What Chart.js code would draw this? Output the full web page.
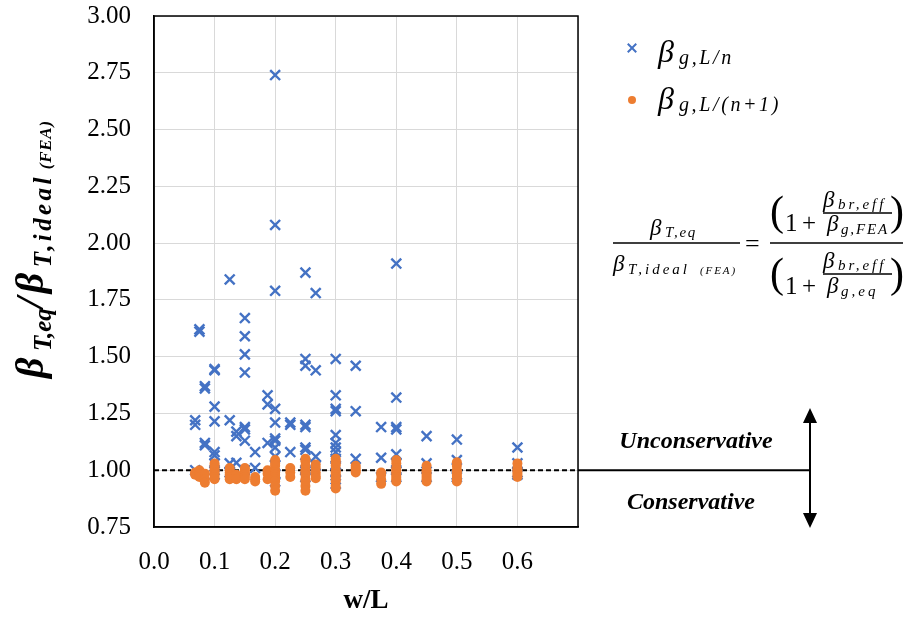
<!DOCTYPE html>
<html>
<head>
<meta charset="utf-8">
<script src="https://cdn.jsdelivr.net/npm/chart.js@4/dist/chart.umd.min.js"></script>
<style>
  html, body { margin: 0; padding: 0; background: #fff; }
  #wrap { width: 911px; height: 617px; position: relative; }
</style>
</head>
<body>
<div id="wrap"><canvas id="c" width="911" height="617"></canvas></div>
<script>
// ---- data ----
const wLevels = [0.068, 0.075, 0.084, 0.1, 0.125, 0.136, 0.15, 0.167, 0.1875, 0.2,
                 0.225, 0.25, 0.267, 0.3, 0.333, 0.375, 0.4, 0.45, 0.5, 0.6];
// beta_g,L/n series (blue crosses), one list per w/L level
const betaLn = [
  [1.22, 1.20, 1.00],
  [1.62, 1.61],
  [1.37, 1.36, 1.12, 1.11],
  [1.445, 1.44, 1.28, 1.215, 1.08, 1.065, 1.03, 1.00, 0.98],
  [1.84, 1.22, 1.03, 0.99],
  [1.17, 1.15, 1.033],
  [1.67, 1.59, 1.51, 1.43, 1.19, 1.18, 1.13, 1.00],
  [1.08, 1.01],
  [1.33, 1.29, 1.12],
  [2.74, 2.08, 1.79, 1.27, 1.21, 1.14, 1.13, 1.10, 1.06, 1.02, 0.98, 0.95],
  [1.21, 1.20, 1.08],
  [1.87, 1.49, 1.46, 1.20, 1.19, 1.10, 1.09, 1.03, 1.00, 0.97],
  [1.78, 1.44, 1.06, 1.02],
  [1.49, 1.33, 1.27, 1.26, 1.155, 1.12, 1.10, 1.08, 1.05, 1.02, 0.99, 0.96, 0.94],
  [1.46, 1.26, 1.05],
  [1.19, 1.055, 0.97],
  [1.91, 1.32, 1.19, 1.18, 1.07, 1.03, 1.00, 0.97],
  [1.15, 1.03, 0.97],
  [1.135, 1.045, 0.98, 0.97],
  [1.10, 1.03, 0.99, 0.98]
];
// beta_g,L/(n+1) series (orange dots), one list per w/L level
const betaLn1 = [
  [0.99, 0.985, 0.98],
  [1.00, 0.99, 0.98, 0.97],
  [0.985, 0.96, 0.945],
  [1.03, 1.02, 1.01, 1.00, 0.99, 0.98, 0.97, 0.96],
  [1.01, 1.00, 0.99, 0.98, 0.97, 0.96],
  [0.98, 0.96],
  [1.01, 1.00, 0.99, 0.98, 0.97, 0.96],
  [0.97, 0.96, 0.95],
  [1.00, 0.985, 0.96],
  [1.045, 1.03, 1.02, 1.00, 0.99, 0.98, 0.97, 0.96, 0.95, 0.93, 0.91],
  [1.01, 0.99, 0.97],
  [1.05, 1.04, 1.02, 1.00, 0.99, 0.98, 0.96, 0.95, 0.93, 0.91],
  [1.025, 1.01, 0.99, 0.975, 0.965],
  [1.05, 1.04, 1.03, 1.02, 1.00, 0.99, 0.98, 0.97, 0.96, 0.95, 0.93, 0.92],
  [1.02, 1.01, 1.00, 0.99],
  [0.99, 0.98, 0.96, 0.94],
  [1.045, 1.03, 1.01, 1.00, 0.99, 0.98, 0.97, 0.96, 0.95],
  [1.02, 1.00, 0.99, 0.98, 0.97, 0.96, 0.95],
  [1.035, 1.02, 1.00, 0.99, 0.98, 0.97, 0.96, 0.95],
  [1.03, 1.01, 1.00, 0.99, 0.98, 0.97]
];
const xTickLabels = ['0.0', '0.1', '0.2', '0.3', '0.4', '0.5', '0.6'];
const yTickLabels = ['0.75', '1.00', '1.25', '1.50', '1.75', '2.00', '2.25', '2.50', '2.75', '3.00'];
const seriesNames = ['β g,L/n', 'β g,L/(n+1)'];
const refLineValue = 1.0;

function toPoints(levels, lists) {
  const pts = [];
  levels.forEach((w, i) => lists[i].forEach(v => pts.push({ x: w, y: v })));
  return pts;
}

// ---- text helpers ----
function drawRun(ctx, parts, x, y) {
  let cx = x;
  const hasLS = ('letterSpacing' in ctx);
  parts.forEach(p => {
    ctx.font = p.font;
    if (hasLS) ctx.letterSpacing = '0px';
    const nat = ctx.measureText(p.t).width;
    let adv = nat;
    if (p.w != null) {
      adv = Math.max(p.w, nat);
      if (hasLS && p.t.length > 1 && p.w > nat) {
        const ls = Math.min((p.w - nat) / p.t.length, p.maxLs != null ? p.maxLs : 3);
        ctx.letterSpacing = ls + 'px';
      }
    }
    ctx.fillText(p.t, cx, y + (p.dy || 0));
    if (hasLS) ctx.letterSpacing = '0px';
    cx += adv;
  });
  return cx;
}

const SERIF = '"Liberation Serif", "Times New Roman", serif';
const it = (s) => 'italic ' + s + 'px ' + SERIF;
const bi = (s) => 'italic bold ' + s + 'px ' + SERIF;
const rg = (s) => s + 'px ' + SERIF;

const decor = {
  id: 'decor',
  beforeDatasetsDraw(chart) {
    const { ctx, chartArea: a, scales: { y } } = chart;
    const yy = y.getPixelForValue(refLineValue);
    ctx.save();
    ctx.strokeStyle = '#000';
    ctx.lineWidth = 2;
    ctx.setLineDash([5, 3]);
    ctx.beginPath();
    ctx.moveTo(a.left, yy);
    ctx.lineTo(a.right, yy);
    ctx.stroke();
    ctx.restore();
  },
  afterDraw(chart) {
    const { ctx, chartArea: a, scales: { y } } = chart;
    const yy = y.getPixelForValue(refLineValue);
    ctx.save();
    // frame
    ctx.strokeStyle = '#000';
    ctx.lineWidth = 1.5;
    ctx.strokeRect(a.left, a.top, a.right - a.left, a.bottom - a.top);

    // continuation line + arrow
    ctx.lineWidth = 2;
    ctx.beginPath();
    ctx.moveTo(a.right, yy); ctx.lineTo(810, yy);
    ctx.moveTo(810, 420); ctx.lineTo(810, 516);
    ctx.stroke();
    ctx.fillStyle = '#000';
    ctx.beginPath();
    ctx.moveTo(810, 408); ctx.lineTo(803, 423); ctx.lineTo(817, 423); ctx.closePath(); ctx.fill();
    ctx.beginPath();
    ctx.moveTo(810, 528); ctx.lineTo(803, 513); ctx.lineTo(817, 513); ctx.closePath(); ctx.fill();

    // labels
    ctx.textBaseline = 'alphabetic';
    ctx.textAlign = 'center';
    ctx.font = bi(24);
    ctx.fillText('Unconservative', 696, 448);
    ctx.fillText('Conservative', 691, 509);
    ctx.textAlign = 'left';

    // y-axis title (rotated)
    ctx.save();
    ctx.translate(43, 378);
    ctx.rotate(-Math.PI / 2);
    drawRun(ctx, [
      { t: 'β', font: bi(40), w: 27 },
      { t: 'T,eq', font: bi(25), dy: 8, w: 42 },
      { t: '/', font: bi(40), w: 15 },
      { t: 'β', font: bi(40), w: 26 },
      { t: 'T,ideal', font: bi(25), dy: 8, w: 93, maxLs: 3.5 },
      { t: ' (FEA)', font: bi(17), dy: 8, w: 54 }
    ], 0, 0);
    ctx.restore();

    // legend
    ctx.strokeStyle = '#4472C4';
    ctx.lineWidth = 2;
    Chart.helpers.drawPoint(ctx, { pointStyle: 'crossRot', radius: 6, rotation: 0, borderWidth: 2 }, 632, 48);
    ctx.fillStyle = '#ED7D31';
    ctx.beginPath(); ctx.arc(632, 100, 4, 0, Math.PI * 2); ctx.fill();
    ctx.fillStyle = '#000';
    drawRun(ctx, [
      { t: 'β', font: it(32), w: 21 },
      { t: 'g,L/n', font: it(20), dy: 2, w: 55 }
    ], 658, 62);
    drawRun(ctx, [
      { t: 'β', font: it(32), w: 21 },
      { t: 'g,L/(n+1)', font: it(20), dy: 2, w: 102 }
    ], 658, 109);

    // formula
    ctx.lineWidth = 1.3;
    ctx.strokeStyle = '#000';
    ctx.beginPath();
    ctx.moveTo(613, 243); ctx.lineTo(740, 243);
    ctx.moveTo(770, 243); ctx.lineTo(903, 243);
    ctx.moveTo(823, 213); ctx.lineTo(892, 213);
    ctx.moveTo(823, 274); ctx.lineTo(892, 274);
    ctx.stroke();
    drawRun(ctx, [
      { t: 'β', font: it(23), w: 15 },
      { t: 'T,eq', font: it(15), dy: 2, w: 32 }
    ], 650, 235);
    drawRun(ctx, [
      { t: 'β', font: it(23), w: 15 },
      { t: 'T,ideal', font: it(15), dy: 3, w: 72 },
      { t: '(FEA)', font: it(11), dy: 3, w: 37 }
    ], 613, 271);
    ctx.font = rg(26);
    ctx.fillText('=', 745, 252);
    ctx.font = rg(42);
    ctx.fillText('(', 770, 225);
    ctx.fillText(')', 890, 225);
    ctx.fillText('(', 770, 287);
    ctx.fillText(')', 890, 287);
    ctx.font = rg(25);
    ctx.fillText('1', 785, 231);
    ctx.fillText('+', 802, 231);
    ctx.fillText('1', 785, 294);
    ctx.fillText('+', 802, 294);
    drawRun(ctx, [
      { t: 'β', font: it(23), w: 15 },
      { t: 'br,eff', font: it(15), dy: 2, w: 54 }
    ], 823, 207);
    drawRun(ctx, [
      { t: 'β', font: it(23), w: 14 },
      { t: 'g,FEA', font: it(15), dy: 3, w: 48 }
    ], 827, 231);
    drawRun(ctx, [
      { t: 'β', font: it(23), w: 15 },
      { t: 'br,eff', font: it(15), dy: 2, w: 54 }
    ], 823, 268);
    drawRun(ctx, [
      { t: 'β', font: it(23), w: 14 },
      { t: 'g,eq', font: it(15), dy: 3, w: 38 }
    ], 827, 293);
    ctx.restore();
  }
};

const tickFont = { family: '"Liberation Serif", "Times New Roman", serif', size: 25 };

new Chart(document.getElementById('c'), {
  type: 'scatter',
  data: {
    datasets: [
      {
        label: seriesNames[0],
        data: toPoints(wLevels, betaLn),
        pointStyle: 'crossRot',
        pointRadius: 7,
        pointBorderWidth: 2.4,
        borderColor: '#4472C4',
        backgroundColor: '#4472C4',
        order: 1
      },
      {
        label: seriesNames[1],
        data: toPoints(wLevels, betaLn1),
        pointStyle: 'circle',
        pointRadius: 5,
        pointBorderWidth: 0,
        borderColor: '#ED7D31',
        backgroundColor: '#ED7D31',
        order: 0
      }
    ]
  },
  options: {
    responsive: false,
    animation: false,
    layout: { padding: { left: 0, right: 333, top: 16, bottom: 0 } },
    plugins: { legend: { display: false }, tooltip: { enabled: false } },
    scales: {
      x: {
        type: 'linear', min: 0, max: 0.7,
        ticks: {
          stepSize: 0.1, color: '#000', font: tickFont, padding: 20,
          callback: (v) => { const i = Math.round(v * 10); return i < xTickLabels.length ? xTickLabels[i] : ''; }
        },
        grid: { color: '#d9d9d9', lineWidth: 1, drawTicks: false },
        border: { color: '#000', width: 1.5 },
        title: { display: true, text: 'w/L', color: '#000', font: { family: tickFont.family, size: 27, weight: 'bold' }, padding: { top: 4, bottom: 0 } },
        afterFit: (s) => { s.height = 90; s.paddingLeft = 0; s.paddingRight = 0; }
      },
      y: {
        type: 'linear', min: 0.75, max: 3.0,
        ticks: {
          stepSize: 0.25, color: '#000', font: tickFont, padding: 23,
          callback: (v) => { const i = Math.round((v - 0.75) / 0.25); return yTickLabels[i] || ''; }
        },
        grid: { color: '#d9d9d9', lineWidth: 1, drawTicks: false },
        border: { color: '#000', width: 1.5 },
        afterFit: (s) => { s.width = 154; s.paddingTop = 0; s.paddingBottom = 0; }
      }
    }
  },
  plugins: [decor]
});
</script>
</body>
</html>
